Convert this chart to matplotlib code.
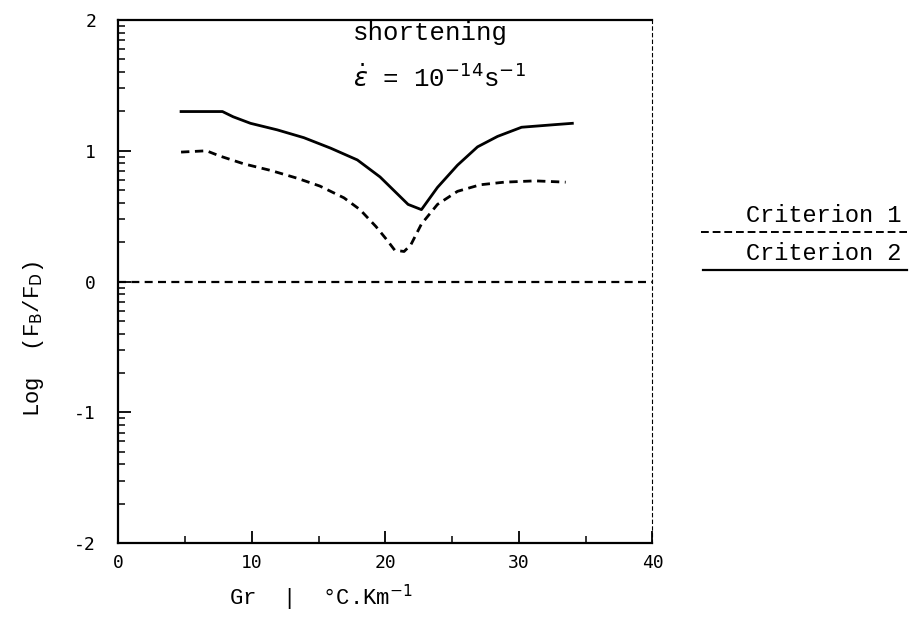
import matplotlib.pyplot as plt
import numpy as np
from matplotlib.ticker import FixedLocator

# criterion 1 (solid)
gr_solid = [4.7, 7.8, 8.6, 9.9, 11.9, 13.9, 15.9, 17.9, 19.6, 20.9, 21.7, 22.7,
            23.9, 25.4, 26.9, 28.4, 30.2, 32.7, 34.0]
log_solid = [1.30, 1.30, 1.26, 1.21, 1.16, 1.10, 1.02, 0.93, 0.80, 0.67, 0.59, 0.55,
             0.72, 0.89, 1.03, 1.11, 1.18, 1.20, 1.21]

# criterion 2 (dashed)
gr_dash = [4.7, 6.6, 7.6, 9.4, 11.4, 13.4, 15.1, 16.9, 18.1, 19.3, 20.1, 20.7,
           21.4, 21.9, 22.7, 23.9, 25.4, 27.1, 28.9, 31.2, 33.5]
log_dash = [0.99, 1.00, 0.96, 0.90, 0.85, 0.79, 0.73, 0.64, 0.55, 0.42, 0.32, 0.24,
            0.23, 0.28, 0.44, 0.59, 0.69, 0.74, 0.76, 0.77, 0.76]

xticks = [0, 10, 20, 30, 40]
xlabels = ['0', '10', '20', '30', '40']
yticks = [-2, -1, 0, 1, 2]
ylabels = ['-2', '-1', '0', '1', '2']

mono = 'Liberation Mono'

fig = plt.figure(figsize=(9.1, 6.25), dpi=100)
ax = fig.add_axes([0.130, 0.131, 0.587, 0.837])

ax.plot(gr_solid, log_solid, color='black', lw=2.0)
ax.plot(gr_dash, log_dash, color='black', lw=2.0, dashes=(3, 2))
ax.axhline(0, color='black', lw=1.6, dashes=(3.6, 2.4))

ax.set_xlim(0, 40)
ax.set_ylim(-2, 2)
ax.set_xticks(xticks)
ax.set_xticklabels(xlabels)
ax.set_yticks(yticks)
ax.set_yticklabels(ylabels)
ax.xaxis.set_minor_locator(FixedLocator([5, 15, 25, 35]))
# log-spaced minor ticks inside each decade
ym = [d + np.log10(k) for d in [-2, -1, 0, 1] for k in range(2, 10)]
ax.yaxis.set_minor_locator(FixedLocator(ym))

ax.tick_params(which='both', direction='in', top=False, right=False, labelsize=13)
ax.tick_params(axis='y', pad=16)
ax.tick_params(axis='x', pad=8)
ax.tick_params(which='major', length=9, width=1.3)
ax.tick_params(which='minor', length=5, width=1.1)
for lab in ax.get_xticklabels() + ax.get_yticklabels():
    lab.set_family('DejaVu Sans Mono')

for side in ['left', 'bottom', 'top']:
    ax.spines[side].set_linewidth(1.6)
ax.spines['right'].set_linewidth(0.8)
ax.spines['right'].set_linestyle((0, (3, 3)))

ax.set_ylabel('Log  (F$_{\\rm B}$/F$_{\\rm D}$)', fontsize=16, family=mono)
ax.yaxis.set_label_coords(-0.135, 0.39)
ax.set_xlabel('Gr  |  °C.Km$^{-1}$', fontsize=16, family=mono)
ax.xaxis.set_label_coords(0.38, -0.075)

ax.text(0.44, 0.962, 'shortening', transform=ax.transAxes, fontsize=18.5,
        family=mono, va='baseline')
ax.text(0.44, 0.872, '$\\dot{\\varepsilon}$ = 10$^{-14}$s$^{-1}$', transform=ax.transAxes,
        fontsize=18.5, family=mono, va='baseline')

# criterion key on the right
fig.text(0.905, 0.656, 'Criterion 1', fontsize=17, family=mono, ha='center', va='center')
fig.lines.append(plt.Line2D([0.770, 0.997], [0.629, 0.629], transform=fig.transFigure,
                            color='black', lw=1.4, dashes=(4, 2)))
fig.text(0.905, 0.595, 'Criterion 2', fontsize=17, family=mono, ha='center', va='center')
fig.lines.append(plt.Line2D([0.773, 0.997], [0.568, 0.568], transform=fig.transFigure,
                            color='black', lw=1.6))

fig.savefig('out.png', dpi=100)
